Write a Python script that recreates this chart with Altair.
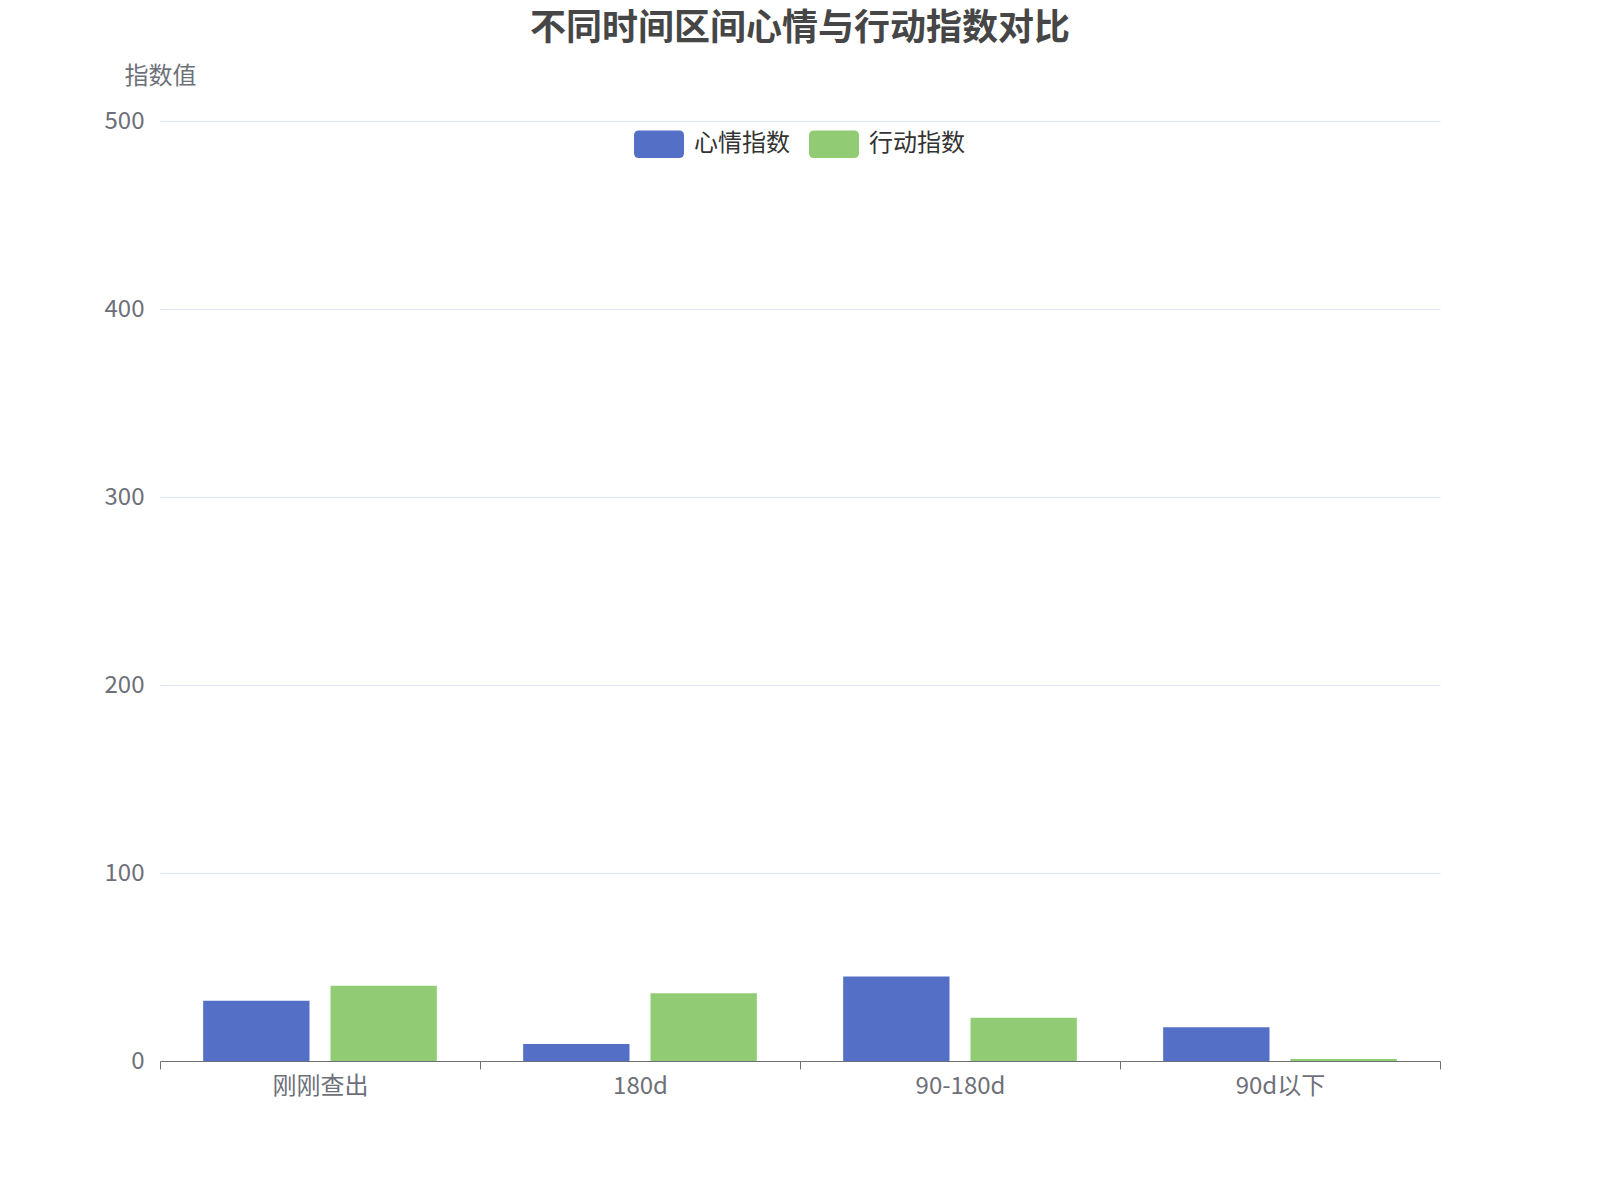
import altair as alt
import pandas as pd

periods = ["刚刚查出", "180d", "90-180d", "90d以下"]
series = ["心情指数", "行动指数"]
mood = [32, 9, 45, 18]
action = [40, 36, 23, 1]
y_ticks = [0, 100, 200, 300, 400, 500]

df = pd.DataFrame({
    "区间": periods * 2,
    "指标": [series[0]] * len(periods) + [series[1]] * len(periods),
    "指数值": mood + action,
})

# rounded rectangle legend swatch, like the echarts "roundRect" icon
round_rect = (
    "M-0.8,-0.55 L0.8,-0.55 Q1,-0.55 1,-0.35 L1,0.35 Q1,0.55 0.8,0.55 "
    "L-0.8,0.55 Q-1,0.55 -1,0.35 L-1,-0.35 Q-1,-0.55 -0.8,-0.55 Z"
)

chart = alt.Chart(df).mark_bar().encode(
    x=alt.X("区间:N", sort=periods, title=None,
            scale=alt.Scale(paddingInner=0, paddingOuter=0),
            axis=alt.Axis(labelAngle=0, tickBand="extent", grid=False,
                          domainColor="#6E7079", tickColor="#6E7079", tickSize=8,
                          labelColor="#6E7079", labelFontSize=24, labelPadding=5)),
    xOffset=alt.XOffset("指标:N", sort=series,
                        scale=alt.Scale(paddingInner=0.165, paddingOuter=0.339)),
    y=alt.Y("指数值:Q", title="指数值",
            scale=alt.Scale(domain=[0, 500]),
            axis=alt.Axis(values=y_ticks, domain=False, ticks=False,
                          gridColor="#E0E6F1", gridOpacity=1, labelColor="#6E7079",
                          labelFontSize=24, labelPadding=16,
                          titleAngle=0, titleX=0, titleY=-45, titleAlign="center",
                          titleBaseline="middle", titleFontWeight="normal",
                          titleColor="#6E7079", titleFontSize=24)),
    color=alt.Color("指标:N", sort=series,
                    scale=alt.Scale(domain=series, range=["#5470C6", "#91CC75"]),
                    legend=alt.Legend(orient="none", legendX=474, legendY=-2,
                                      direction="horizontal", title=None,
                                      symbolType=round_rect, symbolSize=2500,
                                      symbolStrokeWidth=0, symbolOpacity=1,
                                      labelFontSize=24, labelColor="#333333",
                                      labelOffset=10, columnPadding=19)),
).properties(
    title=alt.TitleParams("不同时间区间心情与行动指数对比", fontSize=36,
                          fontWeight="bold", color="#464646", anchor="middle", offset=16),
    width=1280,
    height=940,
    padding={"left": 96, "top": 3, "right": 20, "bottom": 20},
).configure(
    font="Noto Sans CJK SC",
).configure_view(
    stroke=None,
)

chart.save("out.html", embed_options={"renderer": "svg", "actions": False})
